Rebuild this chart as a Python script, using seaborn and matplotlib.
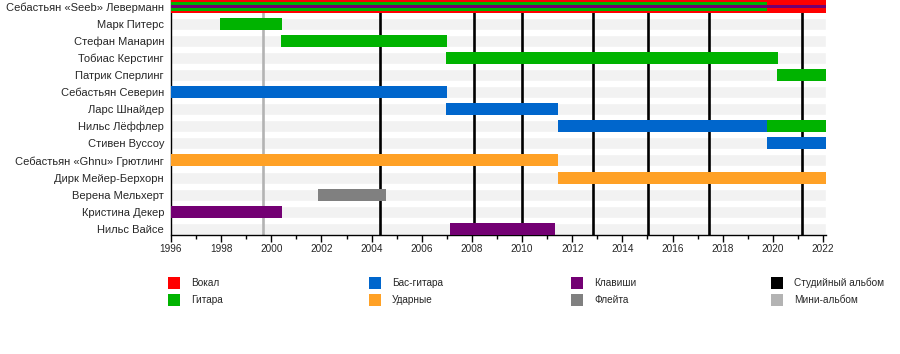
import seaborn as sns
import matplotlib.pyplot as plt
from matplotlib.patches import Rectangle

END = 2022.12

members = ['Себастьян «Seeb» Леверманн', 'Марк Питерс', 'Стефан Манарин',
           'Тобиас Керстинг', 'Патрик Сперлинг', 'Себастьян Северин',
           'Ларс Шнайдер', 'Нильс Лёффлер', 'Стивен Вуссоу',
           'Себастьян «Ghnu» Грютлинг', 'Дирк Мейер-Берхорн',
           'Верена Мельхерт', 'Кристина Декер', 'Нильс Вайсе']

# one entry per stint: member, role, start, end
span_member = ['Себастьян «Seeb» Леверманн', 'Себастьян «Seeb» Леверманн',
               'Себастьян «Seeb» Леверманн', 'Марк Питерс', 'Стефан Манарин',
               'Тобиас Керстинг', 'Патрик Сперлинг', 'Себастьян Северин',
               'Ларс Шнайдер', 'Нильс Лёффлер', 'Нильс Лёффлер',
               'Стивен Вуссоу', 'Себастьян «Ghnu» Грютлинг',
               'Дирк Мейер-Берхорн', 'Верена Мельхерт', 'Кристина Декер',
               'Нильс Вайсе']
span_role = ['vocals', 'guitar', 'keys', 'guitar', 'guitar', 'guitar', 'guitar',
             'bass', 'bass', 'bass', 'guitar', 'bass', 'drums', 'drums',
             'flute', 'keys', 'keys']
span_start = [1996.0, 1996.0, 1996.0, 1997.95, 2000.39, 2006.98, 2020.18,
              1996.0, 2006.98, 2011.43, 2019.76, 2019.76, 1996.0, 2011.43,
              2001.86, 1996.0, 2007.12]
span_end = [END, 2019.76, END, 2000.43, 2007.0, 2020.2, END,
            2007.0, 2011.45, 2019.76, END, END, 2011.45, END,
            2004.57, 2000.43, 2011.31]

studio_albums = [2004.33, 2008.08, 2010.0, 2012.83, 2015.02, 2017.45, 2021.16]
mini_albums = [1999.67]

roles = ['vocals', 'guitar', 'bass', 'drums', 'keys', 'flute']
role_names = ['Вокал', 'Гитара', 'Бас-гитара', 'Ударные', 'Клавиши', 'Флейта']
role_colors = ['#ff0000', '#00b300', '#0066cc', '#ffa126', '#730073', '#808080']
album_names = ['Студийный альбом', 'Мини-альбом']
album_colors = ['#000000', '#b3b3b3']

color_of = dict(zip(roles, role_colors))

# --- style ---
sns.set_theme(style='white')
plt.rcParams['font.family'] = ['Liberation Sans', 'DejaVu Sans']

fig = plt.figure(figsize=(9, 3.54), dpi=100)
ax = fig.add_axes([171 / 900, 1 - 234.5 / 354, 655 / 900, 234.5 / 354])

# light background band for every row (bars from 0, clipped at 1996)
sns.barplot(x=[END] * len(members), y=members, orient='h', color='#f2f2f2',
            saturation=1, width=0.7, ax=ax, zorder=1)

# album lines
for yr in studio_albums:
    ax.axvline(yr, color=album_colors[0], lw=1.9, zorder=2)
for yr in mini_albums:
    ax.axvline(yr, color=album_colors[1], lw=1.9, zorder=2)

# membership bars; roles held at the same time get nested, thinner bars
row = {m: i for i, m in enumerate(members)}
spans = list(zip(span_member, span_role, span_start, span_end))
for k, (m, r, s, e) in enumerate(spans):
    n = sum(1 for m2, _, s2, e2 in spans[:k] if m2 == m and s2 < e and s < e2)
    h = [0.72, 0.47, 0.22][n]
    if n == 0 and not any(m2 == m and s2 < e and s < e2
                          for m2, _, s2, e2 in spans[k + 1:]):
        h = 0.7
    ax.barh(row[m], e - s, left=s, height=h, color=color_of[r],
            edgecolor='none', zorder=3 + n)

ax.set_xlim(1996, END)
ax.set_ylim(13.33, -0.38)
ax.set_xticks(range(1996, 2023, 2))
ax.set_xticks(range(1997, 2023, 2), minor=True)
ax.tick_params(axis='x', which='major', length=5, width=1, color='black',
               labelsize=7.2, pad=2, bottom=True)
ax.tick_params(axis='x', which='minor', length=3, width=1, color='black',
               bottom=True)
ax.tick_params(axis='y', length=0, labelsize=8, pad=5)
ax.set_xlabel('')
ax.set_ylabel('')
for side in ['top', 'right']:
    ax.spines[side].set_visible(False)
for side in ['left', 'bottom']:
    ax.spines[side].set_color('black')
    ax.spines[side].set_linewidth(1)

# --- legend: four columns of two entries ---
leg_names = role_names + album_names
leg_colors = role_colors + album_colors
col_x = [168, 369, 571, 771]
row_y = [283, 300]
for k, (name, c) in enumerate(zip(leg_names, leg_colors)):
    x = col_x[k // 2]
    y = row_y[k % 2]
    fig.add_artist(Rectangle((x / 900, 1 - (y + 6) / 354), 12 / 900, 12 / 354,
                             transform=fig.transFigure, color=c, lw=0))
    fig.text((x + 23) / 900, 1 - y / 354, name, fontsize=7.2, va='center',
             ha='left')

fig.savefig('out.png', dpi=100)
